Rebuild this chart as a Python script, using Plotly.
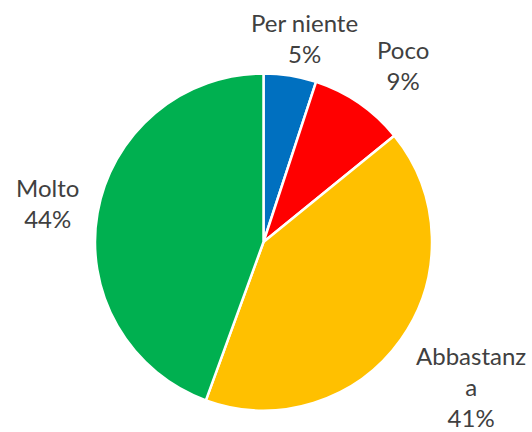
import plotly.graph_objects as go

labels = ["Per niente", "Poco", "Abbastanza", "Molto"]
values = [5, 9, 41, 44]
colors = ["#0070C0", "#FF0000", "#FFC000", "#00B050"]
label_text = ["Per niente<br>5%", "Poco<br>9%", "Abbastanz<br>a<br>41%", "Molto<br>44%"]

W, H = 532, 432
# label centres in pixels (layout only)
label_pos = [(304, 38), (403, 65), (471, 386), (47, 203)]

fig = go.Figure(go.Pie(
    labels=labels, values=values, sort=False, direction="clockwise", rotation=0,
    marker=dict(colors=colors, line=dict(color="white", width=2.5)),
    textinfo="none", hoverinfo="label+percent", showlegend=False,
    domain=dict(x=[95 / W, 432 / W], y=[1 - 410.5 / H, 1 - 73.5 / H]),
))

for txt, (px, py) in zip(label_text, label_pos):
    fig.add_annotation(x=px / W, y=1 - py / H, xref="paper", yref="paper",
                       text=txt, showarrow=False, xanchor="center", yanchor="middle",
                       font=dict(family="Lato", size=24, color="#404040"))

fig.update_layout(width=W, height=H, margin=dict(l=0, r=0, t=0, b=0),
                  paper_bgcolor="white", plot_bgcolor="white")
fig.write_html("out.html", config={"displayModeBar": False},
               post_script="document.body.style.margin='0px';document.body.style.padding='0px';")
